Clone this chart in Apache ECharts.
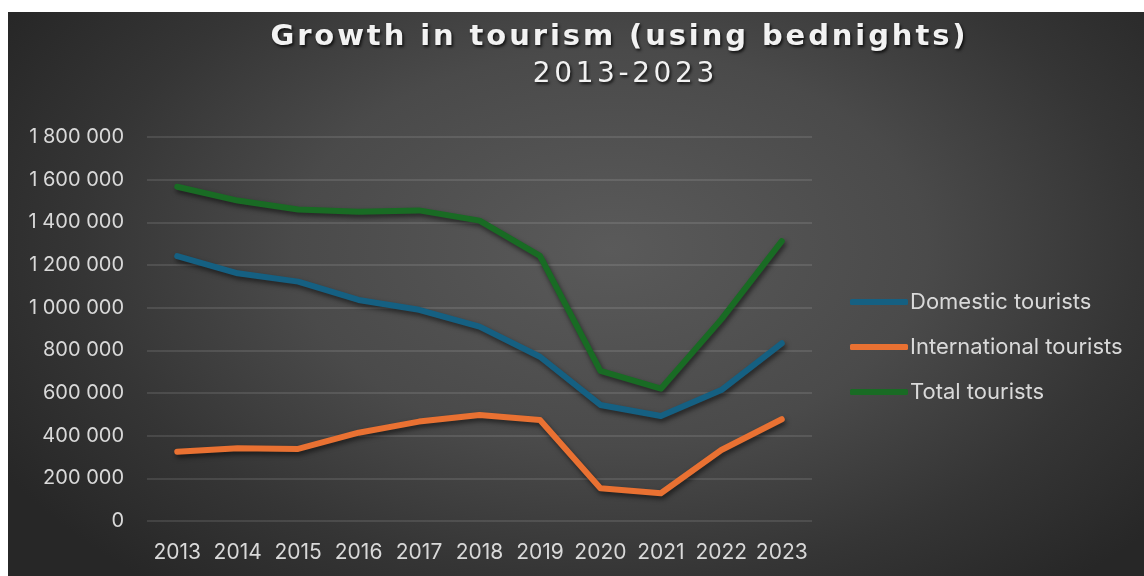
<!DOCTYPE html>
<html>
<head>
<meta charset="utf-8">
<script src="https://cdn.jsdelivr.net/npm/echarts@6/dist/echarts.min.js"></script>
<style>
  html, body { margin: 0; padding: 0; background: #ffffff; }
  #wrap { position: relative; width: 1144px; height: 576px; overflow: hidden; }
  #chart {
    position: absolute; left: 8px; top: 12px; width: 1136px; height: 564px;
    background: radial-gradient(ellipse 62% 78% at 53% 42%, #5a5a5a 0%, #4a4a4a 45%, #353535 75%, #272727 100%);
  }
</style>
</head>
<body>
<div id="wrap"><div id="chart"></div></div>
<script>
// Bednights per year, by tourist origin
const years = ['2013', '2014', '2015', '2016', '2017', '2018', '2019', '2020', '2021', '2022', '2023'];
const domestic = [1242000, 1161000, 1122000, 1036000, 990000, 911000, 770000, 544000, 492000, 614000, 833000];
const international = [325000, 341000, 338000, 414000, 466000, 497000, 473000, 153000, 130000, 333000, 477000];
const total = [1567000, 1502000, 1460000, 1450000, 1456000, 1408000, 1243000, 704000, 620000, 945000, 1312000];

const seriesNames = ['Domestic tourists', 'International tourists', 'Total tourists'];
const titleText = 'Growth in tourism (using bednights)';
const subtitleText = '2013-2023';

const colors = ['#156082', '#E97132', '#196B24'];
const labelColor = '#d9d9d9';
const labelFont = 'Inter, "Liberation Sans", sans-serif';

// spaced-out lettering: each character becomes a padded rich-text fragment
function spaced(str) {
  return str.split('').map(function (c) { return '{c|' + c + '}'; }).join('');
}
function spacedRich(size, weight, pad) {
  return {
    c: {
      fontFamily: '"DejaVu Sans", sans-serif',
      fontSize: size,
      fontWeight: weight,
      color: '#f2f2f2',
      padding: [0, pad, 0, pad],
      textShadowColor: 'rgba(0,0,0,0.75)',
      textShadowBlur: 3,
      textShadowOffsetX: 1.5,
      textShadowOffsetY: 2
    }
  };
}

function thousands(v) {
  return String(v).replace(/\B(?=(\d{3})+(?!\d))/g, ' ');
}

function lineSeries(name, data, color) {
  return {
    name: name,
    type: 'line',
    data: data,
    symbol: 'none',
    smooth: false,
    color: color,
    lineStyle: {
      color: color,
      width: 6,
      cap: 'round',
      join: 'round',
      shadowColor: 'rgba(0,0,0,0.55)',
      shadowBlur: 5,
      shadowOffsetX: 1.5,
      shadowOffsetY: 3
    },
    emphasis: { disabled: true }
  };
}

const chart = echarts.init(document.getElementById('chart'), null, { renderer: 'canvas' });

chart.setOption({
  backgroundColor: 'transparent',
  animation: false,
  title: [
    {
      text: spaced(titleText),
      left: 261,
      top: 11,
      padding: 0,
      textStyle: { rich: spacedRich(29, 'bold', 1.45) }
    },
    {
      text: spaced(subtitleText),
      left: 523,
      top: 49,
      padding: 0,
      textStyle: { rich: spacedRich(28, 'normal', 1.8) }
    }
  ],
  legend: {
    orient: 'vertical',
    left: 842,
    top: 279,
    itemWidth: 58,
    itemHeight: 6,
    itemGap: 23,
    icon: 'roundRect',
    padding: 0,
    data: seriesNames,
    textStyle: {
      color: labelColor,
      fontFamily: labelFont,
      fontSize: 22,
      lineHeight: 22,
      padding: [0, 0, 0, -3]
    }
  },
  grid: {
    left: 139,
    right: 332,
    top: 125,
    bottom: 55,
    containLabel: false
  },
  xAxis: {
    type: 'category',
    data: years,
    boundaryGap: true,
    axisLine: { show: false },
    axisTick: { show: false },
    axisLabel: {
      color: labelColor,
      fontFamily: labelFont,
      fontSize: 21,
      margin: 21,
      interval: 0
    }
  },
  yAxis: {
    type: 'value',
    min: 0,
    max: 1800000,
    interval: 200000,
    axisLine: { show: false },
    axisTick: { show: false },
    axisLabel: {
      color: labelColor,
      fontFamily: labelFont,
      fontSize: 20,
      margin: 23,
      formatter: thousands
    },
    splitLine: {
      lineStyle: { color: 'rgba(255,255,255,0.14)', width: 1.5 }
    }
  },
  series: [
    lineSeries(seriesNames[0], domestic, colors[0]),
    lineSeries(seriesNames[1], international, colors[1]),
    lineSeries(seriesNames[2], total, colors[2])
  ]
});
</script>
</body>
</html>
